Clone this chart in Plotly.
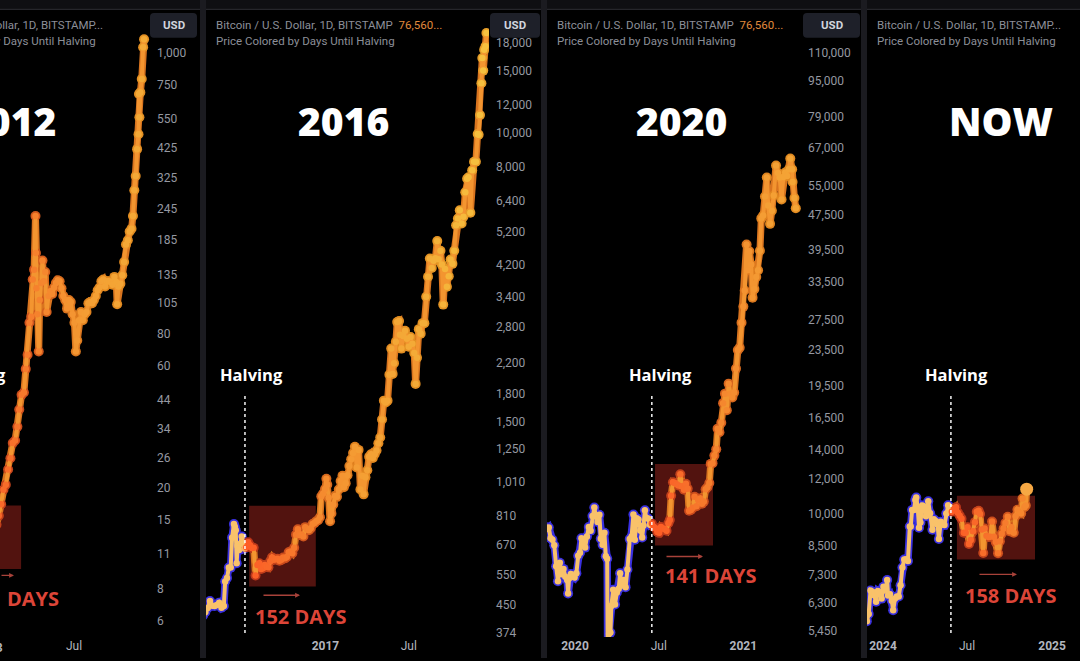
import numpy as np
import pandas as pd
import plotly.graph_objects as go

W, H = 1080, 661

# ---------------- data ----------------
# Panel 1 : 2012 halving cycle (BTC/USD, Bitstamp, sampled closes)
p1_dates = ["2013-01-10","2013-01-15","2013-01-20","2013-01-25","2013-01-30","2013-02-04","2013-02-09","2013-02-14",
            "2013-02-19","2013-02-24","2013-03-01","2013-03-05","2013-03-10","2013-03-15","2013-03-19","2013-03-23",
            "2013-03-27","2013-03-31","2013-04-03","2013-04-06","2013-04-09","2013-04-10","2013-04-11","2013-04-13",
            "2013-04-16","2013-04-18","2013-04-21","2013-04-24","2013-04-27","2013-04-30","2013-05-03","2013-05-07",
            "2013-05-11","2013-05-15","2013-05-19","2013-05-23","2013-05-27","2013-05-31","2013-06-04","2013-06-08",
            "2013-06-12","2013-06-16","2013-06-20","2013-06-24","2013-06-28","2013-07-02","2013-07-05","2013-07-08",
            "2013-07-12","2013-07-16","2013-07-20","2013-07-24","2013-07-28","2013-08-01","2013-08-05","2013-08-09",
            "2013-08-13","2013-08-17","2013-08-21","2013-08-25","2013-08-29","2013-09-02","2013-09-06","2013-09-10",
            "2013-09-14","2013-09-18","2013-09-22","2013-09-26","2013-09-30","2013-10-02","2013-10-05","2013-10-09",
            "2013-10-13","2013-10-17","2013-10-21","2013-10-25","2013-10-29","2013-11-02","2013-11-05","2013-11-08",
            "2013-11-11","2013-11-14","2013-11-17","2013-11-18","2013-11-19","2013-11-21","2013-11-24","2013-11-27",
            "2013-11-29"]
p1_prices = [14.1,14.3,15.5,17.2,19.6,20.5,23.5,26.0,
             29.8,30.5,34.5,40.3,46.0,47.0,58,66,
             88,93,130,142,230,165,120,95,
             68,108,126,154,128,139,97,112,
             117,114,121,126,129,128,120,112,
             108,100,108,106,95,88,68,75,
             90,97,90,95,97,105,106,105,
             108,112,118,121,128,130,122,128,
             128,127,124,133,127,104,122,125,
             135,152,178,185,200,205,230,290,
             330,420,480,690,560,700,790,1050,
             1130]

# Panel 2 : 2016 halving cycle
p2_dates = ["2016-04-10","2016-04-15","2016-04-20","2016-04-25","2016-04-30","2016-05-05","2016-05-10","2016-05-15",
            "2016-05-20","2016-05-25","2016-05-28","2016-06-01","2016-06-05","2016-06-09","2016-06-12","2016-06-16",
            "2016-06-18","2016-06-20","2016-06-22","2016-06-24","2016-06-27","2016-06-30","2016-07-03","2016-07-06",
            "2016-07-09","2016-07-13","2016-07-17","2016-07-21","2016-07-25","2016-07-29","2016-08-02","2016-08-06",
            "2016-08-10","2016-08-14","2016-08-18","2016-08-22","2016-08-26","2016-08-30","2016-09-03","2016-09-07",
            "2016-09-11","2016-09-15","2016-09-19","2016-09-23","2016-09-27","2016-10-01","2016-10-05","2016-10-09",
            "2016-10-13","2016-10-17","2016-10-21","2016-10-25","2016-10-29","2016-11-02","2016-11-06","2016-11-10",
            "2016-11-14","2016-11-18","2016-11-22","2016-11-26","2016-11-30","2016-12-04","2016-12-08","2016-12-12",
            "2016-12-16","2016-12-20","2016-12-23","2016-12-27","2016-12-31","2017-01-03","2017-01-05","2017-01-08",
            "2017-01-11","2017-01-14","2017-01-18","2017-01-22","2017-01-26","2017-01-30","2017-02-03","2017-02-07",
            "2017-02-10","2017-02-14","2017-02-18","2017-02-22","2017-02-26","2017-03-02","2017-03-06","2017-03-10",
            "2017-03-14","2017-03-18","2017-03-22","2017-03-25","2017-03-29","2017-04-02","2017-04-06","2017-04-10",
            "2017-04-14","2017-04-18","2017-04-22","2017-04-26","2017-04-30","2017-05-04","2017-05-08","2017-05-12",
            "2017-05-16","2017-05-20","2017-05-24","2017-05-27","2017-05-30","2017-06-03","2017-06-06","2017-06-10",
            "2017-06-12","2017-06-15","2017-06-19","2017-06-23","2017-06-27","2017-07-01","2017-07-05","2017-07-09",
            "2017-07-13","2017-07-16","2017-07-19","2017-07-23","2017-07-27","2017-07-31","2017-08-04","2017-08-08",
            "2017-08-12","2017-08-16","2017-08-20","2017-08-24","2017-08-28","2017-09-01","2017-09-04","2017-09-08",
            "2017-09-11","2017-09-14","2017-09-18","2017-09-22","2017-09-26","2017-09-30","2017-10-04","2017-10-08",
            "2017-10-12","2017-10-16","2017-10-20","2017-10-24","2017-10-28","2017-11-01","2017-11-05","2017-11-08",
            "2017-11-12","2017-11-16","2017-11-20","2017-11-24","2017-11-28","2017-11-30","2017-12-03","2017-12-06",
            "2017-12-08","2017-12-10","2017-12-12","2017-12-15","2017-12-17"]
p2_prices = [420,430,441,462,448,447,450,457,
             442,447,525,537,575,575,700,765,
             752,735,592,663,645,673,705,672,
             652,657,679,666,654,655,546,585,
             592,570,573,585,578,576,600,615,
             605,608,609,602,605,614,611,617,
             636,639,632,655,714,740,712,715,
             705,750,738,735,745,766,770,780,
             785,800,918,935,963,1030,990,910,
             780,820,870,920,915,960,1015,1050,
             975,1000,1055,1120,1170,1220,1270,1110,
             1245,960,1050,930,1040,1090,1190,1210,
             1180,1210,1240,1300,1350,1520,1720,1700,
             1720,2040,2420,2050,2200,2530,2880,2900,
             2650,2420,2630,2720,2580,2450,2610,2500,
             2350,1920,2280,2750,2670,2860,2860,3400,
             3880,4370,4110,4310,4380,4900,4350,4600,
             4200,3230,4080,3630,3890,4340,4220,4600,
             5440,5680,6000,5500,5750,6750,7380,7450,
             5900,7800,8250,8250,9900,9850,11200,13800,
             16300,15000,17200,17600,19200]

# Panel 3 : 2020 halving cycle
p3_dates = ["2019-10-28","2019-11-01","2019-11-05","2019-11-09","2019-11-13","2019-11-17","2019-11-21","2019-11-25",
            "2019-11-29","2019-12-03","2019-12-07","2019-12-11","2019-12-15","2019-12-17","2019-12-19","2019-12-23",
            "2019-12-27","2019-12-31","2020-01-04","2020-01-08","2020-01-12","2020-01-15","2020-01-19","2020-01-23",
            "2020-01-27","2020-01-31","2020-02-04","2020-02-08","2020-02-12","2020-02-15","2020-02-19","2020-02-23",
            "2020-02-26","2020-03-01","2020-03-05","2020-03-08","2020-03-11","2020-03-12","2020-03-15","2020-03-18",
            "2020-03-20","2020-03-24","2020-03-28","2020-04-01","2020-04-05","2020-04-08","2020-04-12","2020-04-16",
            "2020-04-20","2020-04-24","2020-04-29","2020-05-03","2020-05-07","2020-05-10","2020-05-14","2020-05-18",
            "2020-05-22","2020-05-26","2020-05-29","2020-06-01","2020-06-04","2020-06-08","2020-06-12","2020-06-16",
            "2020-06-20","2020-06-24","2020-06-28","2020-07-02","2020-07-06","2020-07-10","2020-07-14","2020-07-18",
            "2020-07-22","2020-07-25","2020-07-28","2020-08-01","2020-08-05","2020-08-09","2020-08-13","2020-08-17",
            "2020-08-21","2020-08-25","2020-08-29","2020-09-02","2020-09-05","2020-09-09","2020-09-13","2020-09-17",
            "2020-09-21","2020-09-25","2020-09-29","2020-10-03","2020-10-07","2020-10-11","2020-10-15","2020-10-19",
            "2020-10-22","2020-10-26","2020-10-30","2020-11-03","2020-11-06","2020-11-10","2020-11-14","2020-11-18",
            "2020-11-22","2020-11-26","2020-11-30","2020-12-04","2020-12-08","2020-12-12","2020-12-16","2020-12-20",
            "2020-12-24","2020-12-28","2021-01-01","2021-01-04","2021-01-08","2021-01-11","2021-01-14","2021-01-18",
            "2021-01-21","2021-01-25","2021-01-29","2021-02-02","2021-02-06","2021-02-09","2021-02-13","2021-02-17",
            "2021-02-21","2021-02-24","2021-02-28","2021-03-04","2021-03-08","2021-03-13","2021-03-17","2021-03-21",
            "2021-03-25","2021-03-29","2021-04-02","2021-04-06","2021-04-10","2021-04-13","2021-04-17","2021-04-18",
            "2021-04-22","2021-04-25"]
p3_prices = [9350,9250,9330,8820,8750,8500,7620,7050,
             7760,7310,7520,7220,7100,6620,7150,7320,
             7250,7190,7350,8050,8180,8820,8700,8400,
             8900,9350,9170,9900,10350,9900,9600,9960,
             8800,8530,9070,8030,7930,4970,5360,5400,
             6200,6750,6250,6650,6780,7350,6900,7100,
             6840,7500,8780,8900,9980,8750,9780,9720,
             9180,8850,9420,10200,9800,9770,9460,9520,
             9360,9290,9110,9070,9350,9280,9250,9170,
             9530,9700,11000,11800,11750,11680,11600,12300,
             11550,11350,11700,11400,10170,10220,10330,10940,
             10420,10740,10840,10550,10670,11380,11500,11750,
             12980,13030,13550,14000,15590,15300,16070,17800,
             18700,17150,19700,18700,18330,18800,21300,23450,
             23730,27050,29400,31970,40600,35500,39200,36600,
             30800,32200,34300,35500,39300,46500,47200,52100,
             57500,49700,45200,48400,52400,61200,58900,57500,
             51300,57700,59000,58000,60000,63500,60000,56200,
             51700,49000]

# Panel 4 : 2024 halving cycle ("NOW")
p4_dates = ["2023-11-27","2023-12-01","2023-12-05","2023-12-09","2023-12-13","2023-12-17","2023-12-21","2023-12-25",
            "2023-12-29","2024-01-02","2024-01-06","2024-01-10","2024-01-12","2024-01-16","2024-01-20","2024-01-23",
            "2024-01-27","2024-01-31","2024-02-04","2024-02-08","2024-02-12","2024-02-16","2024-02-20","2024-02-24",
            "2024-02-28","2024-03-01","2024-03-04","2024-03-08","2024-03-11","2024-03-13","2024-03-16","2024-03-19",
            "2024-03-22","2024-03-26","2024-03-30","2024-04-03","2024-04-08","2024-04-12","2024-04-17","2024-04-20",
            "2024-04-24","2024-04-28","2024-05-01","2024-05-05","2024-05-09","2024-05-13","2024-05-17","2024-05-21",
            "2024-05-25","2024-05-29","2024-06-03","2024-06-07","2024-06-11","2024-06-15","2024-06-19","2024-06-24",
            "2024-06-28","2024-07-02","2024-07-05","2024-07-09","2024-07-14","2024-07-18","2024-07-22","2024-07-26",
            "2024-07-29","2024-08-02","2024-08-05","2024-08-08","2024-08-12","2024-08-16","2024-08-20","2024-08-24",
            "2024-08-28","2024-09-01","2024-09-06","2024-09-10","2024-09-14","2024-09-18","2024-09-22","2024-09-27",
            "2024-10-01","2024-10-05","2024-10-10","2024-10-14","2024-10-18","2024-10-22","2024-10-26","2024-10-29",
            "2024-11-02","2024-11-05","2024-11-07"]
p4_prices = [37200,38700,44000,43700,42900,41400,43900,43600,
             42100,44900,44000,46600,42800,43100,41600,39500,
             42100,42600,42600,45300,49900,52100,52200,51700,
             62400,62400,68300,68300,72100,73100,69500,62000,
             63800,70000,69600,66000,71600,67100,61300,64900,
             64300,63100,58300,64000,63100,62900,67000,70100,
             69300,67600,68800,69300,67300,66200,65100,60300,
             60300,62100,56700,58000,60800,63900,67600,68000,
             66800,61400,54000,61700,59300,58900,59000,64100,
             59000,57300,53900,57600,60000,61700,63600,65800,
             60800,62100,60300,66000,68400,67400,67000,72700,
             69300,70000,76500]

# dates of the dotted "Halving" markers as drawn, and the highlighted ranges
halving_lines = ["2012-11-28", "2016-07-10", "2020-06-16", "2024-05-27"]
box_start = ["2012-11-28", "2016-07-19", "2020-06-23", "2024-06-09"]
box_end = ["2013-03-09", "2016-12-11", "2020-10-27", "2024-11-25"]
box_low = [9.6, 508, 8490, 52100]
box_high = [17.0, 863, 12980, 73800]
days_labels = ["DAYS", "152 DAYS", "141 DAYS", "158 DAYS"]
year_labels = ["2012", "2016", "2020", "NOW"]

p1_yticks = [1000, 750, 550, 425, 325, 245, 185, 135, 105, 80, 60, 44, 34, 26, 20, 15, 11, 8, 6]
p2_yticks = [18000, 15000, 12000, 10000, 8000, 6400, 5200, 4200, 3400, 2800, 2200, 1800, 1500, 1250,
             1010, 810, 670, 550, 450, 374]
p3_yticks = [110000, 95000, 79000, 67000, 55000, 47500, 39500, 33500, 27500, 23500, 19500, 16500,
             14000, 12000, 10000, 8500, 7300, 6300, 5450]

p1_xticks, p1_xtext = ["2013-07-01"], ["Jul"]
p2_xticks, p2_xtext = ["2017-01-01", "2017-07-01"], ["<b>2017</b>", "Jul"]
p3_xticks, p3_xtext = ["2020-01-01", "2020-07-01", "2021-01-01"], ["<b>2020</b>", "Jul", "<b>2021</b>"]
p4_xticks, p4_xtext = ["2024-01-01", "2024-07-01", "2025-01-01"], ["<b>2024</b>", "Jul", "<b>2025</b>"]

# ---------------- layout helpers ----------------
def X(px):
    return px / W

def Y(py):
    return 1 - py / H

TOP, BOT = 10, 640
FONT = "Roboto"

panels = [
    dict(dates=p1_dates, prices=p1_prices, x0=0, x1=150, a_date="2013-07-01", a_px=74, ppx=0.464,
         y_ref=1000, y_refpx=53, ppdec=257, yt=p1_yticks, xt=p1_xticks, xtt=p1_xtext),
    dict(dates=p2_dates, prices=p2_prices, x0=206, x1=489, a_date="2016-07-09", a_px=244.5, ppx=0.46,
         y_ref=10000, y_refpx=133, ppdec=352.5, yt=p2_yticks, xt=p2_xticks, xtt=p2_xtext),
    dict(dates=p3_dates, prices=p3_prices, x0=547, x1=801, a_date="2020-01-01", a_px=575, ppx=0.46,
         y_ref=110000, y_refpx=53, ppdec=445, yt=p3_yticks, xt=p3_xticks, xtt=p3_xtext),
    dict(dates=p4_dates, prices=p4_prices, x0=867, x1=1080, a_date="2024-01-01", a_px=883, ppx=0.462,
         y_ref=73000, y_refpx=500, ppdec=424, yt=None, xt=p4_xticks, xtt=p4_xtext),
]

CMIN, CMAX = -60, 540
core_cs = [[0, "#f9c26a"], [0.098, "#f9c26a"], [0.1, "#ff5a25"], [0.2, "#f86a2a"], [0.35, "#f5862e"],
           [0.5167, "#f49f34"], [0.767, "#f4ae38"], [1, "#f7c440"]]
glow_cs = [[0, "#3a30e0"], [0.098, "#3a30e0"], [0.1, "#b8321a"], [0.3, "#cf531d"],
           [0.5167, "#e0851f"], [1, "#e8a02a"]]

fig = go.Figure()
layout = dict(width=W, height=H, margin=dict(l=0, r=0, t=0, b=0),
              paper_bgcolor="#000000", plot_bgcolor="#000000", showlegend=False,
              font=dict(family=FONT, color="#b2b5be"))

for i, p in enumerate(panels):
    n = i + 1
    sfx = "" if n == 1 else str(n)
    xa, ya = "x" + sfx, "y" + sfx
    dts = pd.to_datetime(p["dates"])
    pr = np.array(p["prices"], dtype=float)
    days = np.asarray((dts - pd.Timestamp(halving_lines[i])).days)
    dc = np.clip(days, CMIN, CMAX)
    k = int((days < 0).sum())

    # glow lines
    if k > 0:
        fig.add_trace(go.Scatter(x=dts[:k + 1], y=pr[:k + 1], mode="lines", xaxis=xa, yaxis=ya,
                                 line=dict(color="#3a30e0", width=7.5), hoverinfo="skip"))
    fig.add_trace(go.Scatter(x=dts[k:], y=pr[k:], mode="lines", xaxis=xa, yaxis=ya,
                             line=dict(color="#d8741f", width=7), hoverinfo="skip"))
    # glow markers
    fig.add_trace(go.Scatter(x=dts, y=pr, mode="markers", xaxis=xa, yaxis=ya, hoverinfo="skip",
                             marker=dict(size=10, color=dc, colorscale=glow_cs, cmin=CMIN, cmax=CMAX,
                                         line=dict(width=0))))
    # core line
    if k > 0:
        fig.add_trace(go.Scatter(x=dts[:k + 1], y=pr[:k + 1], mode="lines", xaxis=xa, yaxis=ya,
                                 line=dict(color="#f9c26a", width=4), hoverinfo="skip"))
    fig.add_trace(go.Scatter(x=dts[k:], y=pr[k:], mode="lines", xaxis=xa, yaxis=ya,
                             line=dict(color="#f39530", width=4), hoverinfo="skip"))
    # core markers
    fig.add_trace(go.Scatter(x=dts, y=pr, mode="markers", xaxis=xa, yaxis=ya, hoverinfo="skip",
                             marker=dict(size=6.5, color=dc, colorscale=core_cs, cmin=CMIN, cmax=CMAX,
                                         line=dict(width=0))))
    if n == 4:
        fig.add_trace(go.Scatter(x=dts[-1:], y=pr[-1:], mode="markers", xaxis=xa, yaxis=ya,
                                 hoverinfo="skip", marker=dict(size=13, color="#f6a844")))

    a = pd.Timestamp(p["a_date"])
    r0 = a + pd.Timedelta(days=(p["x0"] - p["a_px"]) / p["ppx"])
    r1 = a + pd.Timedelta(days=(p["x1"] - p["a_px"]) / p["ppx"])
    lr = np.log10(p["y_ref"])
    yr = [lr - (BOT - p["y_refpx"]) / p["ppdec"], lr + (p["y_refpx"] - TOP) / p["ppdec"]]

    layout["xaxis" + sfx] = dict(domain=[X(p["x0"]), X(p["x1"])], anchor=ya, type="date",
                                 range=[r0.isoformat(), r1.isoformat()], showgrid=False, zeroline=False,
                                 showline=False, ticks="", tickvals=p["xt"], ticktext=p["xtt"],
                                 tickfont=dict(size=12, color="#b2b5be", family=FONT), fixedrange=True)
    yax = dict(domain=[Y(BOT), Y(TOP)], anchor=xa, type="log", range=yr, side="right",
               showgrid=False, zeroline=False, showline=False, ticks="", fixedrange=True)
    if p["yt"] is not None:
        yax.update(tickvals=p["yt"], ticktext=[f"{v:,}" for v in p["yt"]], ticklabelstandoff=6,
                   tickfont=dict(size=12, color="#9598a1", family=FONT))
    else:
        yax.update(showticklabels=False)
    layout["yaxis" + sfx] = yax

shapes = []
annotations = []


def note(x, y, text, font, xanchor="center"):
    return dict(xref="paper", yref="paper", x=x, y=y, text=text, showarrow=False, font=font,
                xanchor=xanchor, yanchor="middle")


# highlighted ranges and dotted halving lines
for i in range(4):
    n = i + 1
    sfx = "" if n == 1 else str(n)
    shapes.append(dict(type="rect", xref="x" + sfx, yref="y" + sfx, x0=box_start[i], x1=box_end[i],
                       y0=box_low[i], y1=box_high[i], fillcolor="rgba(150,34,28,0.55)",
                       line=dict(width=0), layer="below"))
    shapes.append(dict(type="line", xref="x" + sfx, yref="paper", x0=halving_lines[i], x1=halving_lines[i],
                       y0=Y(636), y1=Y(395), line=dict(color="rgba(255,255,255,0.9)", width=1.6, dash="dot")))

# top strip & separators
shapes.append(dict(type="rect", xref="paper", yref="paper", x0=0, x1=1, y0=Y(9), y1=1,
                   fillcolor="#0f0f12", line=dict(width=0), layer="above"))
shapes.append(dict(type="line", xref="paper", yref="paper", x0=0, x1=1, y0=Y(9.5), y1=Y(9.5),
                   line=dict(color="#26262b", width=1.2), layer="above"))
for sx0, sx1 in [(200, 206), (541, 547), (861, 867)]:
    shapes.append(dict(type="rect", xref="paper", yref="paper", x0=X(sx0), x1=X(sx1), y0=0, y1=1,
                       fillcolor="#1b1b20", line=dict(width=0), layer="above"))


def rrect(x0, y0, x1, y1, r=4):
    pts = (f"M {X(x0 + r)},{Y(y0)} L {X(x1 - r)},{Y(y0)} Q {X(x1)},{Y(y0)} {X(x1)},{Y(y0 + r)} "
           f"L {X(x1)},{Y(y1 - r)} Q {X(x1)},{Y(y1)} {X(x1 - r)},{Y(y1)} L {X(x0 + r)},{Y(y1)} "
           f"Q {X(x0)},{Y(y1)} {X(x0)},{Y(y1 - r)} L {X(x0)},{Y(y0 + r)} Q {X(x0)},{Y(y0)} {X(x0 + r)},{Y(y0)} Z")
    return dict(type="path", xref="paper", yref="paper", path=pts, fillcolor="#1e2029",
                line=dict(width=0), layer="above")


for bx0, bx1 in [(150, 197), (490, 540), (803, 860)]:
    shapes.append(rrect(bx0, 13, bx1, 38))
    annotations.append(note(X((bx0 + bx1) / 2), Y(25.5), "<b>USD</b>",
                            dict(size=11.5, color="#d1d4dc", family=FONT)))

# header texts
hdr_font = dict(size=11.5, color="#8c8f98", family=FONT)
price_span = '<span style="color:#e08a3c">76,560...</span>'
annotations += [
    note(X(105), Y(25), "Bitcoin / U.S. Dollar, 1D, BITSTAMP...", hdr_font, "right"),
    note(X(98), Y(41), "Price Colored by Days Until Halving", hdr_font, "right"),
    note(X(214), Y(25), "Bitcoin / U.S. Dollar, 1D, BITSTAMP  " + price_span, hdr_font, "left"),
    note(X(214), Y(41), "Price Colored by Days Until Halving", hdr_font, "left"),
    note(X(555), Y(25), "Bitcoin / U.S. Dollar, 1D, BITSTAMP  " + price_span, hdr_font, "left"),
    note(X(555), Y(41), "Price Colored by Days Until Halving", hdr_font, "left"),
    note(X(875), Y(25), "Bitcoin / U.S. Dollar, 1D, BITSTAMP...", hdr_font, "left"),
    note(X(875), Y(41), "Price Colored by Days Until Halving", hdr_font, "left"),
]

# big year labels
yr_font = dict(size=39, color="#ffffff", family="Open Sans", weight=800)
for lbl, cx in zip(year_labels, [10, 343, 681, 1001]):
    annotations.append(note(X(cx), Y(121), lbl, yr_font))

# Halving labels
hv_font = dict(size=16.5, color="#ffffff", family="Open Sans", weight=700)
annotations.append(note(X(8), Y(376), "Halving", hv_font, "right"))
for cx in [251, 660, 956]:
    annotations.append(note(X(cx), Y(376), "Halving", hv_font))

# DAYS labels
dy_font = dict(size=20, color="#dc4538", family="Open Sans", weight=700)
annotations.append(note(X(61), Y(601), days_labels[0], dy_font, "right"))
for lbl, cx, cy in zip(days_labels[1:], [301, 711, 1011], [619, 578, 598]):
    annotations.append(note(X(cx), Y(cy), lbl, dy_font))

# arrows (tail offset in pixels)
for ax0, ax1, ay in [(-20, 14, 578), (262, 300, 598), (665, 703, 559), (978, 1017, 577)]:
    annotations.append(dict(xref="paper", yref="paper", x=X(ax1), y=Y(ay), ax=ax0 - ax1, ay=0,
                            text="", showarrow=True, arrowhead=2,
                            arrowsize=0.7, arrowwidth=1.4, arrowcolor="#a8423a"))

# cut-off 2013 x label of panel 1
annotations.append(note(X(5), Y(651), "<b>2013</b>", dict(size=12, color="#b2b5be", family=FONT), "right"))

layout["shapes"] = shapes
layout["annotations"] = annotations
fig.update_layout(**layout)

fig.write_html("out.html", config={"displayModeBar": False},
               post_script="document.body.style.margin='0';document.body.style.overflow='hidden';")
